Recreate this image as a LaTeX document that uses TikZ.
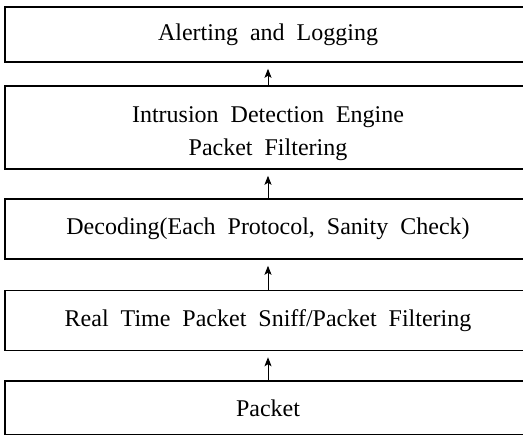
\documentclass[tikz,border=0pt]{standalone}
\usepackage{fontspec}
\setmainfont{Liberation Serif}
\usepackage{tikz}
\usetikzlibrary{arrows.meta}

\newcommand{\layerfont}{\fontsize{24}{33}\selectfont\spaceskip=12pt\relax}

\tikzset{
  layer/.style={draw, line width=1.5pt, rectangle, inner sep=0pt,
    minimum width=526pt, align=center, font=\layerfont},
  upflow/.style={-{Stealth[length=9pt,width=7pt,inset=2pt]}, line width=1pt, shorten >=6pt}
}

\begin{document}
\begin{tikzpicture}[x=1pt,y=-1pt]
  \clip (0,0) rectangle (523,435);
  \fill[white] (0,0) rectangle (523,435);

  % stacked layers, top to bottom
  \node[layer, minimum height=55pt] (alert) at (268,34.5) {Alerting and Logging};
  \node[layer, minimum height=83pt, text height=62pt, text depth=5pt] (engine) at (268,127.5)
    {Intrusion Detection Engine\\Packet Filtering};
  \node[layer, minimum height=60pt] (decode) at (268,229) 
    {Decoding(Each Protocol, Sanity Check)};
  \node[layer, minimum height=60pt] (sniff) at (268,320.5)
    {Real Time Packet Sniff/Packet Filtering};
  \node[layer, minimum height=54pt] (pkt) at (268,408) {Packet};

  % data moves upward
  \draw[upflow] (pkt.north) -- (sniff.south);
  \draw[upflow] (sniff.north) -- (decode.south);
  \draw[upflow] (decode.north) -- (engine.south);
  \draw[upflow] (engine.north) -- (alert.south);
\end{tikzpicture}
\end{document}
